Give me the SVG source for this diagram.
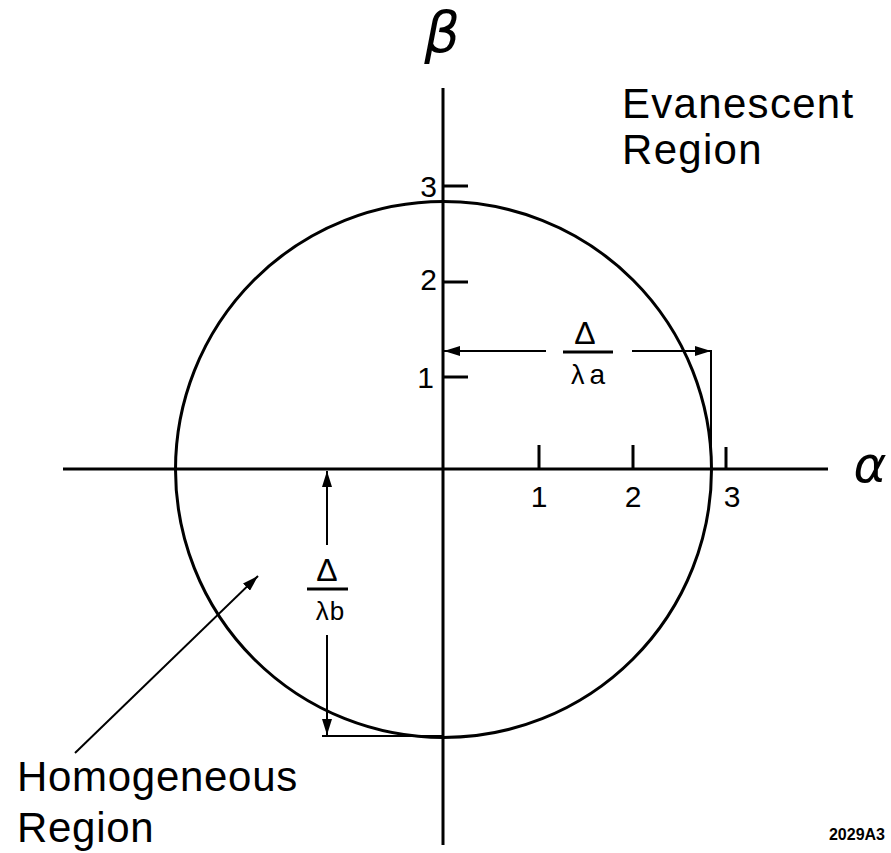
<svg xmlns="http://www.w3.org/2000/svg" width="891" height="853" viewBox="0 0 891 853">
<defs>
<style>
.ax{stroke:#000;stroke-width:3;fill:none;stroke-linecap:butt}
.dim{stroke:#000;stroke-width:2;fill:none}
.t{font-family:"Liberation Sans",Arial,sans-serif;fill:#000}
.g{font-family:"DejaVu Sans","Liberation Sans",sans-serif;fill:#000}
</style>
<marker id="ah" viewBox="0 0 16 10" refX="16" refY="5" markerWidth="16" markerHeight="10" markerUnits="userSpaceOnUse" orient="auto">
<path d="M0,0 L16,5 L0,10 z" fill="#000"/>
</marker>
</defs>
<rect width="891" height="853" fill="#fff"/>

<g id="axes">
<line class="ax" x1="63" y1="469" x2="828" y2="469"/>
<line class="ax" x1="443" y1="88" x2="443" y2="845"/>
<g id="ticks">
<line class="ax" x1="443" y1="186" x2="468" y2="186"/>
<line class="ax" x1="443" y1="282" x2="468" y2="282"/>
<line class="ax" x1="443" y1="377" x2="468" y2="377"/>
<line class="ax" x1="539" y1="445" x2="539" y2="469"/>
<line class="ax" x1="633" y1="445" x2="633" y2="469"/>
<line class="ax" x1="726" y1="447" x2="726" y2="469"/>
</g>
<g id="ticklabels" class="t" font-size="30">
<text x="437" y="197" text-anchor="end">3</text>
<text x="437" y="290" text-anchor="end">2</text>
<text x="434" y="388" text-anchor="end">1</text>
<text x="539" y="507" text-anchor="middle">1</text>
<text x="633" y="507" text-anchor="middle">2</text>
<text x="732" y="507" text-anchor="middle">3</text>
</g>
<text id="beta" class="g" x="442" y="52" font-size="56" font-style="italic" text-anchor="middle">β</text>
<text id="alpha" class="g" x="870" y="482" font-size="50" font-style="italic" text-anchor="middle">α</text>
</g>

<g id="circle">
<circle class="ax" cx="443.5" cy="469.5" r="268"/>
</g>

<g id="connectors">
<line class="dim" x1="546" y1="351" x2="444" y2="351" marker-end="url(#ah)"/>
<line class="dim" x1="632" y1="351" x2="711" y2="351" marker-end="url(#ah)"/>
<line class="dim" x1="711" y1="350" x2="711" y2="469"/>
<line class="dim" x1="327" y1="545" x2="327" y2="471" marker-end="url(#ah)"/>
<line class="dim" x1="327" y1="635" x2="327" y2="735" marker-end="url(#ah)"/>
<line class="dim" x1="322" y1="736" x2="443" y2="736"/>
<line class="dim" x1="75" y1="753" x2="258" y2="576" marker-end="url(#ah)"/>
</g>

<g id="label-a">
<text class="t" x="585" y="344" font-size="32" text-anchor="middle">Δ</text>
<line x1="563" y1="352" x2="613" y2="352" stroke="#000" stroke-width="3"/>
<text class="t" x="588" y="384" text-anchor="middle"><tspan font-size="27">λ</tspan><tspan font-size="28" dx="5">a</tspan></text>
</g>

<g id="label-b">
<text class="t" x="330" y="620" text-anchor="middle" font-size="32"><tspan x="327" y="581">Δ</tspan></text>
<line x1="307" y1="589" x2="348" y2="589" stroke="#000" stroke-width="3"/>
<text class="t" x="330" y="620" text-anchor="middle"><tspan font-size="26">λ</tspan><tspan font-size="26" dx="1">b</tspan></text>
</g>

<g id="evanescent" class="t" font-size="42" letter-spacing="1.3">
<text x="622" y="118">Evanescent</text>
<text x="622" y="164">Region</text>
</g>

<g id="homogeneous" class="t" font-size="42" letter-spacing="0.7">
<text x="17" y="791">Homogeneous</text>
<text x="17" y="842">Region</text>
</g>

<text id="code" class="t" x="885" y="840" font-size="16" font-weight="bold" text-anchor="end">2029A3</text>
</svg>
